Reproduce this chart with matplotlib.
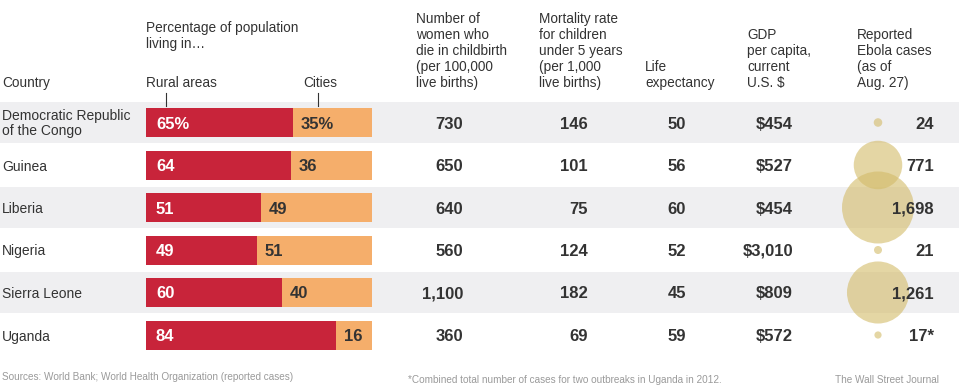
import matplotlib
matplotlib.use('Agg')
from matplotlib import pyplot as plt
import numpy as np

plt.rcParams['font.family'] = ['Liberation Sans', 'DejaVu Sans']

countries = ['Democratic Republic\nof the Congo', 'Guinea', 'Liberia', 'Nigeria', 'Sierra Leone', 'Uganda']
rural = [65, 64, 51, 49, 60, 84]
cities = [35, 36, 49, 51, 40, 16]
maternal = ['730', '650', '640', '560', '1,100', '360']
child_mort = ['146', '101', '75', '124', '182', '69']
life_exp = ['50', '56', '60', '52', '45', '59']
gdp = ['$454', '$527', '$454', '$3,010', '$809', '$572']
ebola = [24, 771, 1698, 21, 1261, 17]
ebola_labels = ['24', '771', '1,698', '21', '1,261', '17*']

red = '#C8243A'
orange = '#F5AE6B'
band = '#EFEFF1'
dark = '#333333'
grey = '#9A9A9A'

W, H = 959, 392
fig = plt.figure(figsize=(W / 100, H / 100), dpi=100)
ax = fig.add_axes([0, 0, 1, 1])
ax.set_xlim(0, W)
ax.set_ylim(H, 0)
ax.axis('off')


def lines(x, last_base, txt, step=16, **kw):
    # draw multi-line text with fixed pixel line pitch, bottom line at last_base
    parts = txt.split('\n')
    for k, p in enumerate(parts):
        ax.text(x, last_base - step * (len(parts) - 1 - k), p, va='baseline', **kw)


# row layout in pixels
y0, pitch = 122.5, 42.5
ys = y0 + pitch * np.arange(len(countries))

for i, y in enumerate(ys):
    if i % 2 == 0:
        ax.axhspan(y - 20.5, y + 20.5, color=band, zorder=0, lw=0)

# headers
hdr = dict(fontsize=9.8, color=dark)
lines(2, 87, 'Country', **hdr)
lines(146, 48, 'Percentage of population\nliving in\u2026', **hdr)
lines(146, 87, 'Rural areas', **hdr)
lines(303, 87, 'Cities', **hdr)
ax.plot([166, 166], [93, 106], color=dark, lw=0.8)
ax.plot([318, 318], [93, 106], color=dark, lw=0.8)
lines(416, 87, 'Number of\nwomen who\ndie in childbirth\n(per 100,000\nlive births)', **hdr)
lines(539, 87, 'Mortality rate\nfor children\nunder 5 years\n(per 1,000\nlive births)', **hdr)
lines(645, 87, 'Life\nexpectancy', **hdr)
lines(747, 87, 'GDP\nper capita,\ncurrent\nU.S. $', **hdr)
lines(857, 87, 'Reported\nEbola cases\n(as of\nAug. 27)', **hdr)

# bars in their own axes (0-100 %)
bx = fig.add_axes([146 / W, 0, 226 / W, 1])
bx.set_xlim(0, 100)
bx.set_ylim(H, 0)
bx.axis('off')
bx.patch.set_alpha(0)
bx.barh(ys, rural, height=29, color=red, lw=0)
bx.barh(ys, cities, left=rural, height=29, color=orange, lw=0)
off = 100 * 10 / 226
for i, y in enumerate(ys):
    r = f'{rural[i]}%' if i == 0 else str(rural[i])
    c = f'{cities[i]}%' if i == 0 else str(cities[i])
    bx.text(off, y + 1.5, r, color='white', fontsize=12, fontweight='bold', va='center')
    bx.text(rural[i] + off - 1, y + 1.5, c, color=dark, fontsize=12, fontweight='bold', va='center')

# country names and numbers
num = dict(fontsize=12, fontweight='bold', color=dark, va='center', ha='right')
for i, y in enumerate(ys):
    if '\n' in countries[i]:
        lines(2, y + 13, countries[i], fontsize=10, color=dark)
    else:
        ax.text(2, y + 1.5, countries[i], fontsize=10, color=dark, va='center')
    ax.text(463, y + 1.5, maternal[i], **num)
    ax.text(588, y + 1.5, child_mort[i], **num)
    ax.text(686, y + 1.5, life_exp[i], **num)
    ax.text(793, y + 1.5, gdp[i], **num)

# bubbles, area proportional to cases
sizes = np.array(ebola) * 1.583
ax.scatter(np.full(len(ys), 878), ys, s=sizes, color='#D3BB68', alpha=0.6, lw=0, zorder=3)
for i, y in enumerate(ys):
    ax.text(934, y + 1.5, ebola_labels[i], zorder=4, **num)

foot = dict(fontsize=7.2, color=grey, va='baseline')
ax.text(2, 380, 'Sources: World Bank; World Health Organization (reported cases)', **foot)
ax.text(408, 383, '*Combined total number of cases for two outbreaks in Uganda in 2012.', **foot)
ax.text(835, 383, 'The Wall Street Journal', **foot)

fig.savefig('out.png', dpi=100)
